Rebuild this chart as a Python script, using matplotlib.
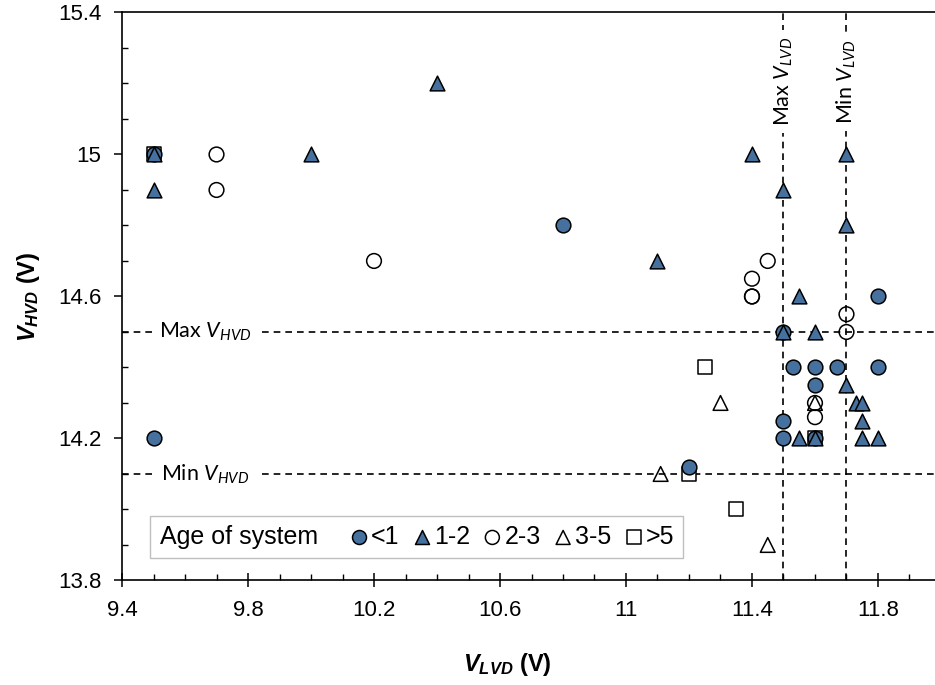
import numpy as np
import matplotlib.pyplot as plt
from matplotlib.lines import Line2D
from matplotlib.ticker import MultipleLocator, FormatStrFormatter

plt.rcParams['font.family'] = 'Liberation Sans'
plt.rcParams['mathtext.fontset'] = 'custom'
plt.rcParams['mathtext.rm'] = 'Lato'
plt.rcParams['mathtext.it'] = 'Lato:italic'
plt.rcParams['mathtext.bf'] = 'Liberation Sans:bold'
plt.rcParams['mathtext.bfit'] = 'Liberation Sans:italic:bold'

# data (V_LVD, V_HVD) per age group

lt1_x = [9.5, 9.5, 10.8, 11.2, 11.5, 11.5, 11.5, 11.53, 11.6, 11.6, 11.6, 11.67, 11.8, 11.8]
lt1_y = [15.0, 14.2, 14.8, 14.12, 14.5, 14.25, 14.2, 14.4, 14.4, 14.35, 14.2, 14.4, 14.6, 14.4]

a12_x = [9.5, 9.5, 10.0, 10.4, 11.1, 11.4, 11.5, 11.5, 11.55, 11.6, 11.55, 11.6,
         11.7, 11.7, 11.7, 11.73, 11.75, 11.75, 11.75, 11.8]
a12_y = [15.0, 14.9, 15.0, 15.2, 14.7, 15.0, 14.9, 14.5, 14.6, 14.5, 14.2, 14.2,
         15.0, 14.8, 14.35, 14.3, 14.3, 14.25, 14.2, 14.2]

a23_x = [9.7, 9.7, 10.2, 11.4, 11.4, 11.4, 11.45, 11.6, 11.6, 11.7, 11.7]
a23_y = [15.0, 14.9, 14.7, 14.6, 14.6, 14.65, 14.7, 14.3, 14.26, 14.55, 14.5]

a35_x = [11.11, 11.3, 11.45, 11.6]
a35_y = [14.1, 14.3, 13.9, 14.3]

gt5_x = [9.5, 11.2, 11.25, 11.35, 11.6]
gt5_y = [15.0, 14.1, 14.4, 14.0, 14.2]

# limit lines
max_lvd = 11.5
min_lvd = 11.7
max_hvd = 14.5
min_hvd = 14.1

xticks = [9.4, 9.8, 10.2, 10.6, 11, 11.4, 11.8]
yticks = [13.8, 14.2, 14.6, 15, 15.4]

blue = '#46719f'
msize = 112

fig = plt.figure(figsize=(9.35, 6.85), dpi=100)
ax = fig.add_axes([0.1305, 0.1526, 0.8759, 0.8292])

# dashed limit lines
dash = (0, (4, 3))
ax.axhline(max_hvd, color='k', lw=1.2, ls=dash, zorder=2)
ax.axhline(min_hvd, color='k', lw=1.2, ls=dash, zorder=2)
ax.axvline(max_lvd, color='k', lw=1.2, ls=dash, zorder=2)
ax.axvline(min_lvd, color='k', lw=1.2, ls=dash, zorder=2)

# markers
ax.scatter(gt5_x, gt5_y, marker='s', s=msize * 0.95, facecolor='white', edgecolor='k', lw=1.1, zorder=3, label='>5')
ax.scatter(lt1_x, lt1_y, marker='o', s=msize, facecolor=blue, edgecolor='k', lw=1.1, zorder=4, label='<1')
ax.scatter(a12_x, a12_y, marker='^', s=msize, facecolor=blue, edgecolor='k', lw=1.1, zorder=5, label='1-2')
ax.scatter(a23_x, a23_y, marker='o', s=msize, facecolor='none', edgecolor='k', lw=1.1, zorder=5, label='2-3')
ax.scatter(a35_x, a35_y, marker='^', s=msize, facecolor='none', edgecolor='k', lw=1.1, zorder=5, label='3-5')

# line labels
box = dict(facecolor='white', edgecolor='none', pad=5)
lab_kw = dict(family='Lato', fontsize=15.5, ha='center', va='center', bbox=box, zorder=3)
ax.text(9.665, max_hvd, r'Max $V_{HVD}$', **lab_kw)
ax.text(9.665, min_hvd, r'Min $V_{HVD}$', **lab_kw)
ax.text(max_lvd, 15.205, r'Max $V_{LVD}$', rotation=90, **lab_kw)
ax.text(min_lvd, 15.205, r'Min $V_{LVD}$', rotation=90, **lab_kw)

# axes
ax.set_xlim(9.4, 12.0)
ax.set_ylim(13.8, 15.4)
ax.set_xticks(xticks)
ax.set_yticks(yticks)
ax.xaxis.set_minor_locator(MultipleLocator(0.1))
ax.yaxis.set_minor_locator(MultipleLocator(0.1))
ax.xaxis.set_major_formatter(FormatStrFormatter('%g'))
ax.yaxis.set_major_formatter(FormatStrFormatter('%g'))
ax.tick_params(axis='x', which='major', direction='inout', length=10, width=1.1, labelsize=16, pad=9)
ax.tick_params(axis='x', which='minor', direction='in', length=4, width=1.0)
ax.tick_params(axis='y', which='major', direction='out', length=6, width=1.1, labelsize=16, pad=9)
ax.tick_params(axis='y', which='minor', direction='in', length=4, width=1.0)
ax.spines['right'].set_visible(False)
for s in ['left', 'bottom', 'top']:
    ax.spines[s].set_linewidth(1.2)

ax.set_xlabel(r'$\mathbfit{V_{LVD}}$ (V)', fontsize=17, fontweight='bold')
ax.set_ylabel(r'$\mathbfit{V_{HVD}}$ (V)', fontsize=17, fontweight='bold')
ax.xaxis.set_label_coords(0.471, -0.125)
ax.yaxis.set_label_coords(-0.098, 0.5)

# legend with the title as first entry
handles, labels = ax.get_legend_handles_labels()
order = ['<1', '1-2', '2-3', '3-5', '>5']
hmap = dict(zip(labels, handles))
title = Line2D([], [], linestyle='none', marker='none')
leg = ax.legend([title] + [hmap[k] for k in order], ['Age of system'] + order,
                loc='lower left', bbox_to_anchor=(0.034, 0.04), borderaxespad=0,
                ncol=6, fontsize=18, markerscale=0.95, handlelength=0.6,
                handletextpad=0.18, columnspacing=0.6, fancybox=False,
                framealpha=1, edgecolor='#bfbfbf', borderpad=0.35)
leg.get_frame().set_linewidth(1.0)
# pull the title text left over its empty handle slot
leg.get_texts()[0].set_x(-18)

fig.savefig('out.png', dpi=100)
